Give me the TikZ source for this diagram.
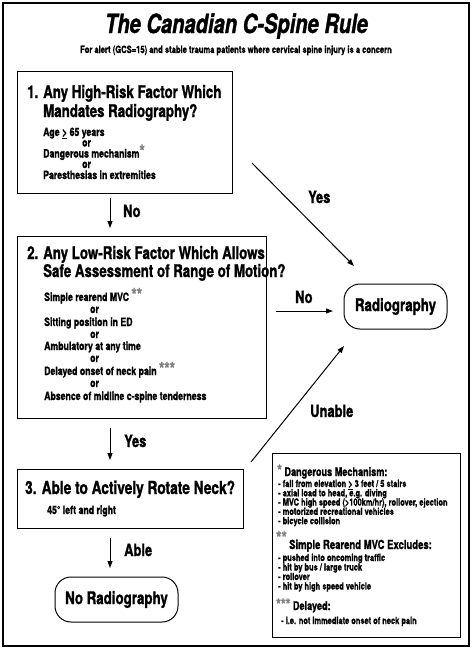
\documentclass[tikz,border=0pt]{standalone}
\usepackage{fontspec}
\setmainfont{TeX Gyre Heros}[FakeStretch=0.76,FakeBold=1.2]
\usetikzlibrary{arrows.meta}
\newcommand{\starmark}[3][13]{\smash{\raisebox{#2}{\textcolor{black!50}{\fontsize{#1}{#1}\selectfont #3}}}}
\tikzset{
  qbox/.style={draw, line width=1pt, anchor=north west, inner sep=0},
  term/.style={draw, line width=1pt, rounded corners=16pt, inner sep=0, font=\bfseries\fontsize{17.5}{17.5}\selectfont},
  qtxt/.style={anchor=base west, inner sep=0, font=\bfseries\fontsize{17.5}{17.5}\selectfont},
  itm/.style={anchor=base west, inner sep=0, font=\bfseries\fontsize{11.5}{11.5}\selectfont},
  lbl/.style={anchor=base west, inner sep=0, font=\bfseries\fontsize{17}{17}\selectfont},
  keyhd/.style={anchor=base west, inner sep=0, font=\bfseries\fontsize{12}{12}\selectfont},
  keyit/.style={anchor=base west, inner sep=0, font=\bfseries\fontsize{9.8}{9.8}\selectfont},
  arr/.style={line width=1pt, -{Triangle[length=7pt,width=5pt]}}
}
\begin{document}
\begin{tikzpicture}[x=1pt,y=-1pt]
\useasboundingbox (0,0) rectangle (472,649);
\draw[line width=2.5pt] (3,3) rectangle (469,646);
\node[anchor=base, inner sep=0, font=\bfseries\itshape\fontsize{26.5}{26.5}\selectfont] (ttl) at (236.5,33) {The Canadian C-Spine Rule};
\node[anchor=base, inner sep=0, font=\bfseries\fontsize{10}{10}\selectfont] (sub) at (236,53) {For alert (GCS=15) and stable trauma patients where cervical spine injury is a concern};
\node[qbox, minimum width=215pt, minimum height=122pt] (box1) at (17,71) {};
\node[qtxt] (q1a) at (27,98) {1. Any High-Risk Factor Which};
\node[qtxt] (q1b) at (43,117) {Mandates Radiography?};
\node[itm] (q1i1) at (43,136) {Age \underline{>} 65 years};
\node[itm] (q1o1) at (82,146.5) {or};
\node[itm] (q1i2) at (43,157.5) {Dangerous mechanism\starmark[18]{0pt}{*}};
\node[itm] (q1o2) at (82,168) {or};
\node[itm] (q1i3) at (43,179) {Paresthesias in extremities};
\node[qbox, minimum width=249pt, minimum height=182pt] (box2) at (17,236) {};
\node[qtxt] (q2a) at (27,259) {2. Any Low-Risk Factor Which Allows};
\node[qtxt] (q2b) at (43,277) {Safe Assessment of Range of Motion?};
\node[itm] (q2i1) at (44,301) {Simple rearend MVC \starmark[18]{0pt}{**}};
\node[itm] (q2o1) at (90,313) {or};
\node[itm] (q2i2) at (44,326) {Sitting position in ED};
\node[itm] (q2o2) at (90,338) {or};
\node[itm] (q2i3) at (44,350) {Ambulatory at any time};
\node[itm] (q2o3) at (90,362) {or};
\node[itm] (q2i4) at (44,375) {Delayed onset of neck pain \starmark[18]{0pt}{***}};
\node[itm] (q2o4) at (90,387) {or};
\node[itm] (q2i5) at (44,400) {Absence of midline c-spine tenderness};
\node[qbox, minimum width=226pt, minimum height=59pt] (box3) at (17,469) {};
\node[qtxt, font=\bfseries\fontsize{18}{18}\selectfont] (q3a) at (25,494) {3. Able to Actively Rotate Neck?};
\node[itm] (q3i1) at (47,514) {45° left and right};
\node[term, minimum width=103pt, minimum height=45pt] (rad) at (395.5,306.5) {Radiography};
\node[term, minimum width=123pt, minimum height=45pt] (norad) at (116.5,599.5) {No Radiography};
\coordinate (no1s) at (110,198);
\coordinate (no1e) at (110,228);
\coordinate (yes2s) at (110,428);
\coordinate (yes2e) at (110,460);
\coordinate (able3s) at (110,538);
\coordinate (able3e) at (110,568);
\coordinate (yes1s) at (252,163);
\coordinate (yes1e) at (354,266);
\coordinate (no2s) at (276,311);
\coordinate (no2e) at (333,311);
\coordinate (un3s) at (251,462);
\coordinate (un3e) at (344,346);
\draw[arr] (no1s) -- (no1e);
\draw[arr] (yes2s) -- (yes2e);
\draw[arr] (able3s) -- (able3e);
\draw[arr] (yes1s) -- (yes1e);
\draw[arr] (no2s) -- (no2e);
\draw[arr] (un3s) -- (un3e);
\node[lbl] (lno1) at (123,217) {No};
\node[lbl] (lyes2) at (124,447) {Yes};
\node[lbl] (lable) at (124,556) {Able};
\node[lbl] (lyes1) at (308,203) {Yes};
\node[lbl] (lno2) at (295,303) {No};
\node[lbl] (lun) at (310,417) {Unable};
\node[qbox, minimum width=188pt, minimum height=184pt] (key) at (272,453) {};
\node[keyhd] (k1) at (277,476) {\starmark[16]{0pt}{*} Dangerous Mechanism:};
\node[keyit] (k1a) at (278,487) {- fall from elevation \underline{>} 3 feet / 5 stairs};
\node[keyit] (k1b) at (278,496.3) {- axial load to head, e.g. diving};
\node[keyit] (k1c) at (278,505.6) {- MVC high speed (>100km/hr), rollover, ejection};
\node[keyit] (k1d) at (278,514.9) {- motorized recreational vehicles};
\node[keyit] (k1e) at (278,524.2) {- bicycle collision};
\node[keyhd] (k2s) at (276,544) {\starmark[18]{0pt}{**}};
\node[keyhd, font=\bfseries\fontsize{12.5}{12.5}\selectfont] (k2) at (289,549) {Simple Rearend MVC Excludes:};
\node[keyit] (k2a) at (278,561) {- pushed into oncoming traffic};
\node[keyit] (k2b) at (278,570.5) {- hit by bus / large truck};
\node[keyit] (k2c) at (278,580) {- rollover};
\node[keyit] (k2d) at (278,589.5) {- hit by high speed vehicle};
\node[keyhd] (k3) at (276,610) {\starmark[16]{0pt}{***} Delayed:};
\node[keyit] (k3a) at (281,624) {- i.e. not immediate onset of neck pain};
\end{tikzpicture}
\end{document}
